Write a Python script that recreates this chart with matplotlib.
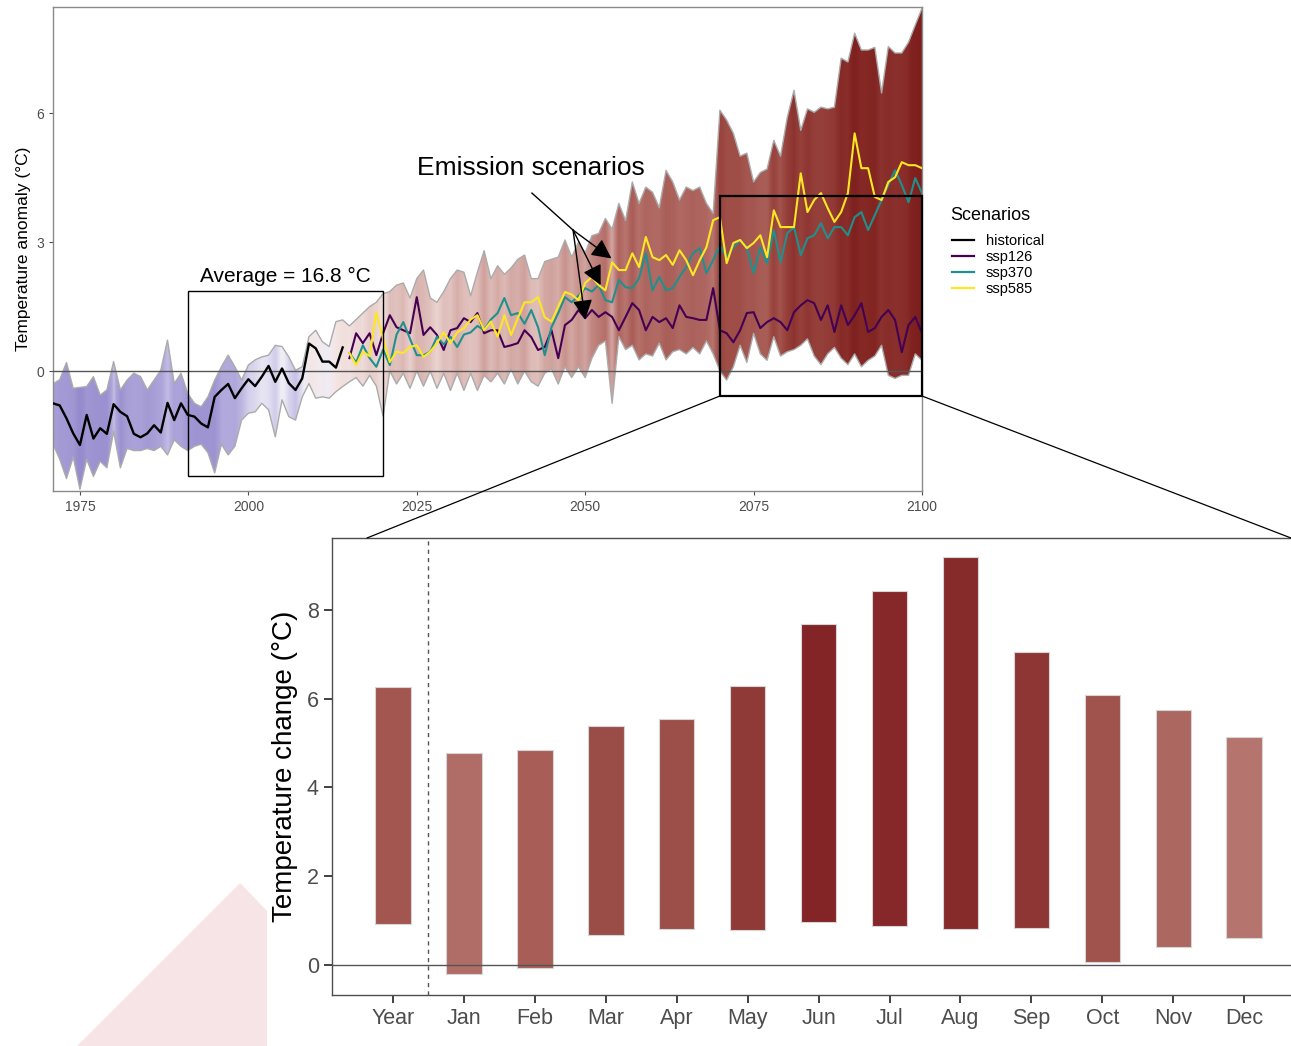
import numpy as np
import matplotlib
matplotlib.use("Agg")
import matplotlib.pyplot as plt
from matplotlib.colors import LinearSegmentedColormap, Normalize
from matplotlib.patches import Rectangle, Polygon, ConnectionPatch
from matplotlib.lines import Line2D

plt.rcParams['font.family'] = ['Liberation Sans', 'DejaVu Sans']

# ---------------- data: annual temperature anomaly (°C) ----------------
hist_years = np.arange(1971, 2015)
hist_mean = [-0.75, -0.80, -1.10, -1.45, -1.72, -1.02, -1.57, -1.33, -1.46, -0.77,
             -0.95, -1.05, -1.46, -1.54, -1.45, -1.26, -1.43, -0.74, -1.14, -0.75,
             -1.02, -1.06, -1.22, -1.31, -0.60, -0.44, -0.30, -0.63, -0.40, -0.19,
             -0.35, -0.13, 0.12, -0.25, 0.06, -0.28, -0.44, -0.17, 0.64, 0.53,
             0.22, 0.22, 0.08, 0.55]
hist_upper = [-0.30, -0.20, 0.20, -0.40, -0.38, -0.36, -0.13, -0.56, -0.44, 0.22,
              -0.44, -0.21, -0.05, -0.13, -0.44, -0.21, 0.02, 0.72, -0.29, -0.05,
              -0.52, -0.75, -0.83, -0.60, -0.21, 0.10, 0.37, 0.10, -0.21, 0.14,
              0.26, 0.33, 0.37, 0.60, 0.57, 0.33, 0.02, 0.10, 0.80, 0.95,
              0.68, 0.57, 1.15, 1.19]
hist_lower = [-1.70, -2.05, -2.50, -2.00, -2.75, -2.05, -2.45, -2.10, -2.25, -1.40,
              -2.25, -1.80, -1.85, -1.85, -1.80, -1.85, -1.75, -1.95, -1.60, -1.75,
              -1.85, -1.75, -1.70, -1.90, -2.37, -1.70, -1.95, -1.75, -1.14, -0.98,
              -0.95, -0.75, -0.90, -1.53, -0.67, -1.06, -1.14, -0.60, -0.29, -0.63,
              -0.60, -0.63, -0.48, -0.36]

scen_years = np.arange(2015, 2101)
scen_upper = [1.05, 1.20, 1.35, 1.50, 1.60, 1.80, 1.85, 2.00, 2.05, 1.70,
              2.15, 2.35, 1.70, 1.60, 1.85, 2.15, 2.35, 2.30, 1.75, 2.30,
              2.80, 2.15, 2.45, 2.25, 2.40, 2.60, 2.70, 2.15, 2.15, 2.55,
              2.60, 2.65, 3.05, 2.65, 3.00, 2.75, 3.15, 3.20, 3.55, 3.30,
              3.90, 3.50, 4.40, 3.90, 4.28, 4.16, 3.80, 4.67, 4.40, 3.98,
              4.28, 4.20, 4.28, 3.90, 3.67, 6.07, 5.84, 5.53, 5.00, 5.07,
              4.40, 4.62, 4.70, 5.37, 5.00, 5.90, 6.53, 5.60, 6.10, 6.02,
              6.14, 6.10, 6.14, 7.28, 7.19, 7.86, 7.47, 7.47, 7.53, 6.47,
              7.55, 7.40, 7.40, 7.65, 8.05, 8.44]
scen_lower = [-0.25, -0.15, -0.35, -0.10, -0.35, -1.05, 0.00, -0.30, -0.05, -0.40,
              0.00, -0.35, 0.00, -0.40, -0.05, -0.45, -0.05, -0.45, -0.05, -0.45,
              -0.10, -0.25, -0.05, -0.30, 0.05, -0.30, 0.00, -0.25, -0.35, -0.05,
              0.05, -0.30, 0.10, -0.15, 0.10, -0.15, 0.30, 0.60, 0.70, -0.75,
              0.80, 0.50, 0.60, 0.26, 0.40, 0.35, 0.65, 0.26, 0.45, 0.50,
              0.40, 0.55, 0.40, 0.70, 0.40, 0.00, -0.21, 0.10, 0.60, 0.20,
              0.88, 0.40, 0.25, 0.80, 0.35, 0.45, 0.50, 0.60, 0.75, 0.35,
              0.15, 0.40, 0.55, 0.30, 0.15, 0.40, 0.10, 0.25, 0.35, 0.60,
              -0.10, -0.17, -0.10, -0.10, 0.40, 0.25]
ssp126 = [0.30, 0.88, 0.65, 0.88, 0.37, 0.88, 1.30, 1.02, 0.95, 0.88,
          1.72, 0.84, 1.02, 0.84, 0.49, 0.95, 1.00, 1.23, 1.14, 1.35,
          0.88, 0.95, 0.95, 0.56, 0.60, 0.65, 0.95, 0.79, 0.49, 0.56,
          0.95, 0.30, 1.07, 1.19, 1.42, 1.23, 1.42, 1.26, 1.37, 1.26,
          0.95, 1.26, 1.58, 1.42, 0.95, 1.26, 1.14, 1.23, 1.00, 1.53,
          1.26, 1.23, 1.19, 1.19, 1.93, 0.95, 0.88, 0.67, 0.95, 1.35,
          1.37, 1.00, 1.14, 1.23, 1.14, 0.95, 1.37, 1.53, 1.65, 1.58,
          1.19, 1.53, 0.91, 1.53, 1.07, 1.30, 1.58, 0.91, 1.00, 1.26,
          1.42, 1.19, 0.44, 1.07, 1.26, 0.88]
ssp370 = [0.42, 0.20, 0.60, 0.30, 0.10, 0.50, 0.14, 0.85, 1.14, 0.75,
          0.37, 0.37, 0.45, 0.80, 0.62, 0.80, 0.56, 0.85, 0.90, 1.05,
          0.95, 1.20, 1.35, 1.70, 1.30, 1.35, 1.10, 1.42, 1.02, 0.37,
          1.02, 1.35, 1.72, 1.60, 1.75, 1.93, 1.85, 2.00, 1.65, 1.60,
          2.12, 1.95, 1.93, 2.16, 2.74, 1.88, 2.19, 1.88, 1.93, 2.19,
          2.42, 2.74, 2.86, 2.28, 2.58, 2.93, 2.65, 2.88, 3.05, 2.86,
          2.28, 2.88, 2.51, 3.28, 2.53, 3.21, 3.35, 2.70, 3.09, 3.16,
          3.44, 3.09, 3.35, 3.35, 3.16, 3.58, 3.70, 3.28, 3.63, 3.98,
          4.33, 4.67, 4.33, 3.93, 4.49, 4.14]
ssp585 = [0.42, 0.14, 0.45, 0.35, 1.37, 0.75, 0.21, 0.45, 0.42, 0.56,
          0.60, 0.33, 0.45, 0.65, 0.90, 0.65, 0.90, 1.00, 1.20, 1.30,
          0.95, 1.15, 0.80, 1.30, 0.84, 1.23, 1.60, 1.60, 1.72, 1.25,
          1.15, 1.50, 1.84, 1.78, 1.65, 2.05, 2.19, 2.00, 1.88, 2.53,
          2.35, 2.35, 2.74, 2.42, 3.12, 2.65, 2.58, 2.70, 2.47, 2.81,
          2.58, 2.23, 2.58, 2.88, 3.51, 3.58, 2.51, 2.98, 3.05, 2.86,
          2.98, 3.16, 2.65, 3.74, 3.35, 3.35, 3.35, 4.60, 3.70, 3.98,
          4.14, 3.79, 3.47, 3.70, 4.14, 5.53, 4.72, 4.72, 4.05, 3.98,
          4.40, 4.51, 4.86, 4.79, 4.79, 4.72]

scenario_names = ['historical', 'ssp126', 'ssp370', 'ssp585']
scenario_colors = ['#000000', '#440154', '#21908C', '#FDE725']

# ---------------- data: change 2070-2100 by month (°C) ----------------
periods = ['Year', 'Jan', 'Feb', 'Mar', 'Apr', 'May', 'Jun',
           'Jul', 'Aug', 'Sep', 'Oct', 'Nov', 'Dec']
change_min = [0.92, -0.20, -0.07, 0.68, 0.81, 0.79, 0.97, 0.88, 0.81, 0.83, 0.07, 0.41, 0.61]
change_max = [6.26, 4.77, 4.84, 5.38, 5.54, 6.28, 7.68, 8.42, 9.19, 7.05, 6.08, 5.74, 5.14]
bar_colors = ['#a3554f', '#b06c66', '#a85d57', '#9a4c47', '#9c4f49', '#8f3a36', '#832427',
              '#862729', '#872a2a', '#8e3634', '#a0524c', '#ab6760', '#b5756e']

W, H = 1291, 1046
fig = plt.figure(figsize=(W / 100, H / 100), dpi=100)

# decorative wedge behind the lower panel
wedge = Polygon([(77 / W, 0), (240 / W, 1 - 883 / H), (267 / W, 1 - 911 / H), (267 / W, 0)],
                closed=True, transform=fig.transFigure, facecolor='#f6e4e6',
                edgecolor='none', zorder=0)
fig.patches.append(wedge)

# ---------------- upper panel ----------------
ax1 = fig.add_axes([53 / W, 1 - 491 / H, 869 / W, 484 / H])

stripe_cmap = LinearSegmentedColormap.from_list(
    'stripes',
    [(0.00, '#968bcd'), (0.10, '#aea6da'), (0.21, '#efedf7'), (0.28, '#f4e6e4'),
     (0.38, '#ddbab6'), (0.53, '#ba7872'), (0.68, '#9c4842'), (0.85, '#80221f'),
     (1.00, '#7a1a1c')])
stripe_norm = Normalize(vmin=-1.5, vmax=5.0)


def gradient_ribbon(ax, x, lo, hi):
    x = np.asarray(x, float)
    lo = np.asarray(lo, float)
    hi = np.asarray(hi, float)
    verts = np.concatenate([np.column_stack([x, hi]), np.column_stack([x[::-1], lo[::-1]])])
    poly = Polygon(verts, closed=True, facecolor='none', edgecolor='none')
    ax.add_patch(poly)
    mid = (lo + hi) / 2
    xf = np.linspace(x[0], x[-1], (len(x) - 1) * 10 + 1)
    rgba = stripe_cmap(stripe_norm(np.interp(xf, x, mid)))[None, :, :]
    im = ax.imshow(rgba, extent=(x[0], x[-1], lo.min(), hi.max()), aspect='auto',
                   origin='lower', interpolation='bilinear', zorder=1)
    im.set_clip_path(poly)
    ax.plot(x, hi, color='#ababab', lw=1.0, zorder=2)
    ax.plot(x, lo, color='#ababab', lw=1.0, zorder=2)


# one continuous ensemble envelope: observed period followed by projections
all_years = np.concatenate([hist_years, scen_years])
gradient_ribbon(ax1, all_years, hist_lower + scen_lower, hist_upper + scen_upper)

ax1.axhline(0, color='#555555', lw=1.0, zorder=3)

ax1.plot(hist_years, hist_mean, color=scenario_colors[0], lw=1.7, zorder=5)
ax1.plot(scen_years, ssp126, color=scenario_colors[1], lw=1.5, zorder=5)
ax1.plot(scen_years, ssp370, color=scenario_colors[2], lw=1.5, zorder=5)
ax1.plot(scen_years, ssp585, color=scenario_colors[3], lw=1.5, zorder=5)

# reference period box and zoom box
ax1.add_patch(Rectangle((1991, -2.44), 29, 4.30, fill=False, edgecolor='black', lw=1.0, zorder=6))
ax1.text(2005.5, 2.2, 'Average = 16.8 °C', ha='center', va='center', fontsize=15, zorder=7)
ax1.add_patch(Rectangle((2070, -0.58), 30, 4.65, fill=False, edgecolor='black', lw=1.6,
                        zorder=6, clip_on=False))

# emission scenario annotation
ax1.text(2042.0, 4.72, 'Emission scenarios', ha='center', va='center', fontsize=19, zorder=7)
branch = (2048.2, 3.28)
ax1.plot([2042.1, branch[0]], [4.14, branch[1]], color='black', lw=1.0, zorder=7)
for tip in [(2053.9, 2.62), (2052.3, 2.0), (2050.0, 1.2)]:
    ax1.annotate('', xy=tip, xytext=branch,
                 arrowprops=dict(arrowstyle='-|>', color='black', lw=1.0,
                                 mutation_scale=30, shrinkA=0, shrinkB=0),
                 zorder=7)

ax1.set_xlim(1971, 2100)
ax1.set_ylim(-2.79, 8.47)
ax1.set_xticks([1975, 2000, 2025, 2050, 2075, 2100])
ax1.set_yticks([0, 3, 6])
ax1.tick_params(axis='both', labelsize=10, labelcolor='#4d4d4d', color='#4d4d4d',
                length=3, width=0.8)
for s in ax1.spines.values():
    s.set_color('#8a8a8a')
    s.set_linewidth(1.0)
ax1.set_ylabel('Temperature anomaly (°C)', fontsize=12.5, labelpad=4)

# legend for the scenarios
fig.text(950 / W, 1 - 215 / H, 'Scenarios', ha='left', va='center', fontsize=13)
handles = [Line2D([], [], color=c, lw=1.6) for c in scenario_colors]
fig.legend(handles, scenario_names, loc='upper left',
           bbox_to_anchor=(952 / W, 1 - 234 / H), frameon=False, fontsize=10.5,
           handlelength=1.5, handletextpad=0.8, labelspacing=0.13,
           borderaxespad=0, borderpad=0)

# ---------------- lower panel ----------------
ax2 = fig.add_axes([332 / W, 1 - 995 / H, (W - 332) / W, 457 / H])
pos = np.arange(1, len(periods) + 1)
heights = np.array(change_max) - np.array(change_min)
ax2.bar(pos, heights, bottom=change_min, width=0.5, color=bar_colors,
        edgecolor='#d6d6d6', linewidth=0.8, zorder=2)
ax2.axhline(0, color='#555555', lw=1.0, zorder=3)
ax2.axvline(1.5, color='#555555', lw=1.0, ls=(0, (3, 3)), zorder=3)
ax2.set_xlim(0.14, 13.66)
ax2.set_ylim(-0.68, 9.62)
ax2.set_xticks(pos)
ax2.set_xticklabels(periods)
ax2.set_yticks([0, 2, 4, 6, 8])
ax2.tick_params(axis='both', labelsize=15.5, labelcolor='#4d4d4d', color='#333333',
                length=6, width=1.3)
ax2.spines['right'].set_visible(False)
for k in ['left', 'bottom', 'top']:
    ax2.spines[k].set_color('#4d4d4d')
    ax2.spines[k].set_linewidth(1.0)
ax2.set_ylabel('Temperature change (°C)', fontsize=20, labelpad=6)

# connectors from the zoom box to the lower panel
for xa, xb in [((2070, -0.58), (0.0365, 1.0)), ((2100, -0.58), (1.0, 1.0))]:
    cp = ConnectionPatch(xyA=xa, coordsA=ax1.transData, xyB=xb, coordsB=ax2.transAxes,
                         color='black', lw=0.9, zorder=10)
    fig.add_artist(cp)

fig.savefig('out.png', dpi=100)
